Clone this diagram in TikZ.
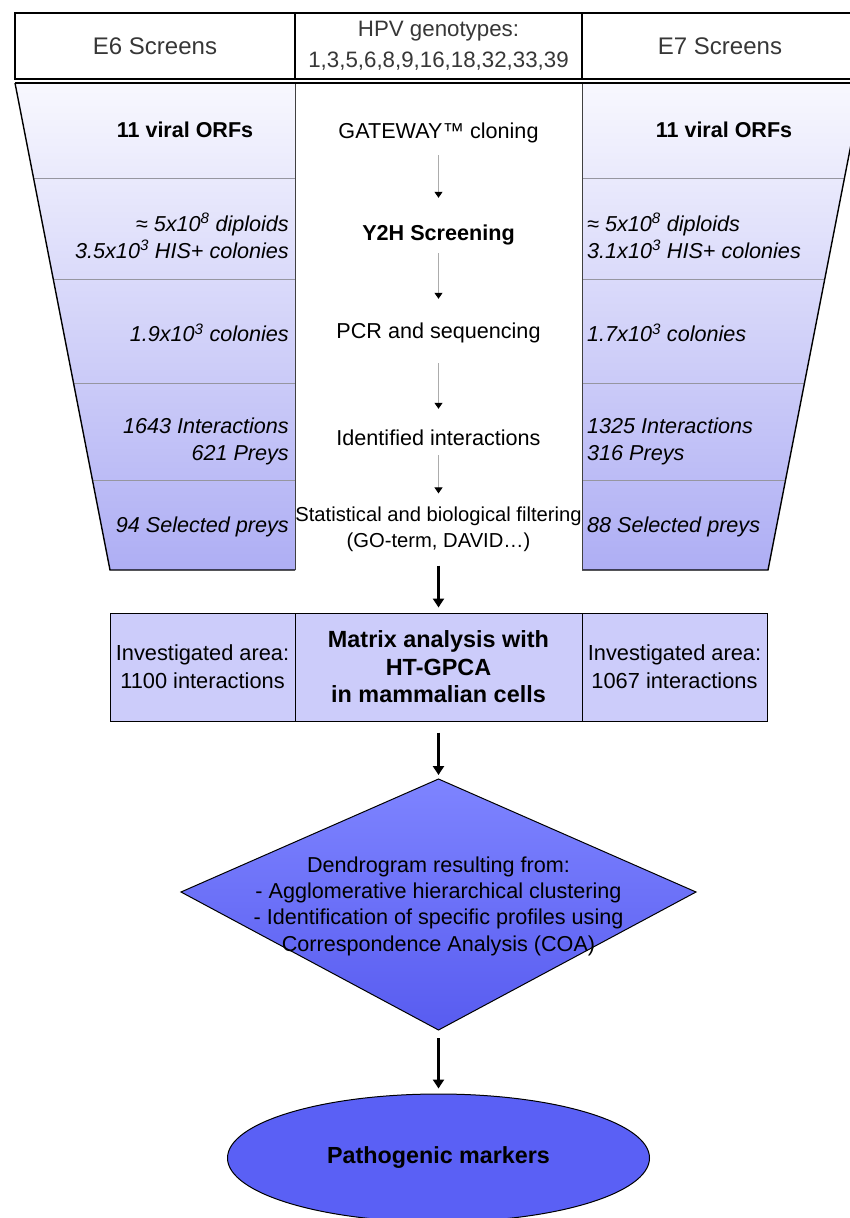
\documentclass[tikz,border=0pt]{standalone}
\usepackage{fontspec}
\setmainfont{Liberation Sans}
\usetikzlibrary{arrows.meta,shapes.geometric}
\definecolor{funtop}{RGB}{248,248,254}
\definecolor{funbot}{RGB}{174,174,244}
\definecolor{matfill}{RGB}{204,204,250}
\definecolor{diamtop}{RGB}{126,132,255}
\definecolor{diambot}{RGB}{88,92,240}
\definecolor{ellfill}{RGB}{90,96,245}
\definecolor{divgray}{RGB}{150,150,160}
\definecolor{hdrtext}{RGB}{55,55,55}
\tikzset{
  hdrcell/.style={draw=black, line width=1.3pt, minimum height=66pt, inner sep=0pt,
    text=hdrtext, align=center},
  ctext/.style={inner sep=0pt, font=\fontsize{21.6}{27}\selectfont, align=center,
    text height=15pt, text depth=5pt},
  cbold/.style={ctext, font=\bfseries\fontsize{21.6}{27}\selectfont},
  sidetext/.style={inner sep=0pt, font=\itshape\fontsize{21.6}{27}\selectfont},
  sidebold/.style={inner sep=0pt, font=\bfseries\fontsize{21.5}{27}\selectfont},
  matcell/.style={draw=black, line width=1pt, fill=matfill, minimum height=108pt, inner sep=0pt, align=center},
  matside/.style={matcell, font=\fontsize{21.8}{28}\selectfont},
  divline/.style={draw=divgray, line width=0.9pt},
  smallarrow/.style={draw=gray!65, line width=1pt, -{Triangle[color=black,length=6pt,width=8pt]}},
  bigarrow/.style={draw=black, line width=2.4pt, -{Triangle[length=9pt,width=11pt]}},
}
\begin{document}
\begin{tikzpicture}[x=1pt,y=-1pt]
\clip (0,0) rectangle (850,1218);
\fill[white] (0,0) rectangle (850,1218);

% ---------- funnel (left trapezoid) ----------
\shade[top color=funtop, bottom color=funbot] (15,83) -- (295,83) -- (295,570) -- (110,570) -- cycle;
\begin{scope}
  \clip (15,83) -- (295,83) -- (295,570) -- (110,570) -- cycle;
  \foreach \yy in {178,279,383,480} \draw[divline] (0,\yy) -- (850,\yy);
\end{scope}
\draw[black, line width=1.4pt] (15,83) -- (110,570) -- (295,570);
\draw[black!75, line width=1pt] (295,83) -- (295,570);

% ---------- funnel (right trapezoid) ----------
\shade[top color=funtop, bottom color=funbot] (582,83) -- (863,83) -- (768,570) -- (582,570) -- cycle;
\begin{scope}
  \clip (582,83) -- (863,83) -- (768,570) -- (582,570) -- cycle;
  \foreach \yy in {178,279,383,480} \draw[divline] (0,\yy) -- (850,\yy);
\end{scope}
\draw[black, line width=1.4pt] (863,83) -- (768,570) -- (582,570);
\draw[black!75, line width=1pt] (582,83) -- (582,570);

% ---------- header ----------
\node[hdrcell, minimum width=280pt, font=\fontsize{24}{30}\selectfont] (h6) at (155,46) {E6 Screens};
\node[hdrcell, minimum width=287pt, font=\fontsize{22.3}{31}\selectfont] (hm) at (438.5,46) {HPV genotypes:\\1,3,5,6,8,9,16,18,32,33,39};
\node[hdrcell, minimum width=276pt, font=\fontsize{24}{30}\selectfont] (h7) at (720,46) {E7 Screens};
\draw[black, line width=1.3pt] (15,83) -- (850,83);

% ---------- left column texts ----------
\node[sidebold] (l1) at (185,130) {11 viral ORFs};
\node[sidetext, anchor=east, align=right] (l2) at (289,236) {≈ 5x10\textsuperscript{8} diploids\\3.5x10\textsuperscript{3} HIS+ colonies};
\node[sidetext, anchor=east] (l3) at (289,333) {1.9x10\textsuperscript{3} colonies};
\node[sidetext, anchor=east, align=right] (l4) at (289,441) {1643 Interactions\\621 Preys};
\node[sidetext, anchor=east] (l5) at (289,527) {94 Selected preys};

% ---------- right column texts ----------
\node[sidebold] (r1) at (724,130) {11 viral ORFs};
\node[sidetext, anchor=west, align=left] (r2) at (587,236) {≈ 5x10\textsuperscript{8} diploids\\3.1x10\textsuperscript{3} HIS+ colonies};
\node[sidetext, anchor=west] (r3) at (587,333) {1.7x10\textsuperscript{3} colonies};
\node[sidetext, anchor=west, align=left] (r4) at (587,441) {1325 Interactions\\316 Preys};
\node[sidetext, anchor=west] (r5) at (587,527) {88 Selected preys};

% ---------- center column ----------
\node[ctext] (gw) at (438.5,133) {GATEWAY™ cloning};
\node[cbold] (y2h) at (438.5,235) {Y2H Screening};
\node[ctext] (pcr) at (438.5,333) {PCR and sequencing};
\node[ctext] (idi) at (438.5,440) {Identified interactions};
\node[inner sep=0pt, align=center, font=\fontsize{20.2}{26}\selectfont] (stat) at (438.5,529)
  {Statistical and biological filtering\\(GO-term, DAVID…)};

\draw[smallarrow, shorten <=12pt, shorten >=27pt] (gw) -- (y2h);
\draw[smallarrow, shorten <=8pt, shorten >=24pt] (y2h) -- (pcr);
\draw[smallarrow, shorten <=20pt, shorten >=21pt] (pcr) -- (idi);
\draw[smallarrow, shorten <=5pt, shorten >=13pt] (idi) -- (stat);

% ---------- matrix box ----------
\node[matside, minimum width=185pt] (ml) at (202.5,667) {Investigated area:\\1100 interactions};
\node[matcell, minimum width=287pt, font=\bfseries\fontsize{23.4}{27.5}\selectfont] (mat) at (438.5,667)
  {Matrix analysis with\\HT-GPCA\\in mammalian cells};
\node[matside, minimum width=185pt] (mr) at (674.5,667) {Investigated area:\\1067 interactions};

\draw[bigarrow, shorten <=14pt, shorten >=5pt] (stat) -- (mat);

% ---------- diamond ----------
\coordinate (dT) at (438.5,779);
\coordinate (dR) at (696,892);
\coordinate (dB) at (438.5,1030);
\coordinate (dL) at (181,892);
\shadedraw[top color=diamtop, bottom color=diambot, draw=black, line width=1pt]
  (dT) -- (dR) -- (dB) -- (dL) -- cycle;
\node[inner sep=0pt, align=center, font=\fontsize{21.6}{26.3}\selectfont] (dtext) at (438.5,906)
  {Dendrogram resulting from:\\- Agglomerative hierarchical clustering\\- Identification of specific profiles using\\Correspondence Analysis (COA)};

\draw[bigarrow, shorten <=11pt, shorten >=4pt] (mat) -- (dT);

% ---------- ellipse ----------
\node[ellipse, draw=black, line width=1pt, fill=ellfill, minimum width=422pt, minimum height=128pt,
  inner sep=0pt, font=\bfseries\fontsize{23.3}{26}\selectfont] (pm) at (438.5,1158) {Pathogenic markers};

\draw[bigarrow, shorten <=8pt, shorten >=5pt] (dB) -- (pm);
\end{tikzpicture}
\end{document}
